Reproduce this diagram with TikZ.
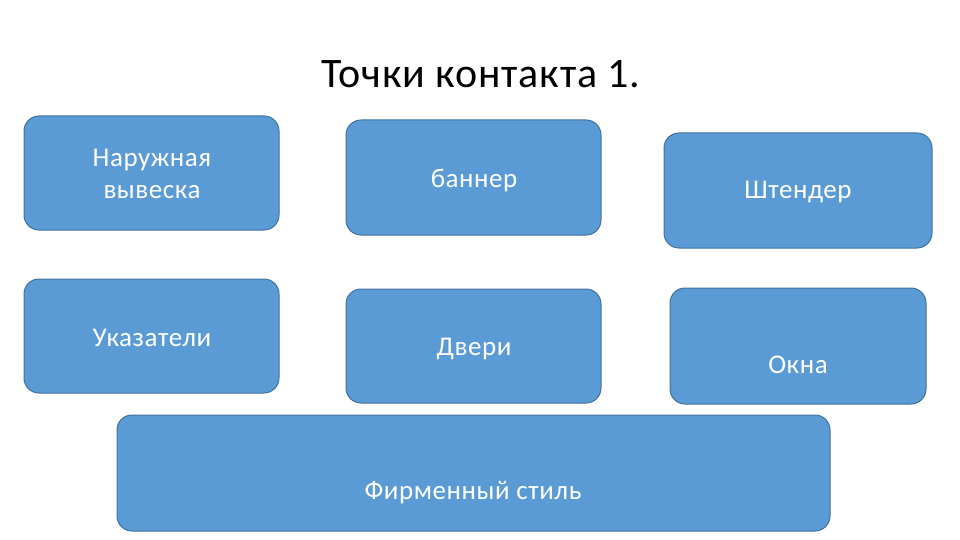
\documentclass[tikz,border=0pt]{standalone}
\usepackage{fontspec}
\setmainfont{Carlito}
\newfontfamily\boxfont[LetterSpace=2]{Carlito}
\newfontfamily\titlefont[LetterSpace=2]{Carlito}
\definecolor{boxfill}{HTML}{5B9BD5}
\definecolor{boxline}{HTML}{41719C}
\begin{document}
\begin{tikzpicture}[x=1pt,y=-1pt,
  card/.style={draw=boxline,line width=1pt,fill=boxfill,rounded corners=15pt},
  lbl/.style={text=white,font=\boxfont\fontsize{27}{32}\selectfont,align=center,inner sep=0pt}]
\useasboundingbox (0,0) rectangle (960,540);
\node[font=\titlefont\fontsize{42}{48}\selectfont,inner sep=0pt] (title) at (481,74) {Точки контакта 1.};
% boxes
\draw[card] (24,116) rectangle (279,230);
\draw[card] (346,120) rectangle (601,235);
\draw[card] (664,133) rectangle (932,248);
\draw[card] (24,279) rectangle (279,393);
\draw[card] (346,289) rectangle (601,403);
\draw[card] (670,288) rectangle (926,404);
\draw[card] (117,415) rectangle (830,531);
% labels
\node[lbl] (t1) at (152,174) {Наружная\\вывеска};
\node[lbl] (t2) at (474,180) {баннер};
\node[lbl] (t3) at (798,192) {Штендер};
\node[lbl] (t4) at (152,338) {Указатели};
\node[lbl] (t5) at (474,349) {Двери};
\node[lbl] (t6) at (798,365) {Окна};
\node[lbl] (t7) at (473,493) {Фирменный стиль};
\end{tikzpicture}
\end{document}
